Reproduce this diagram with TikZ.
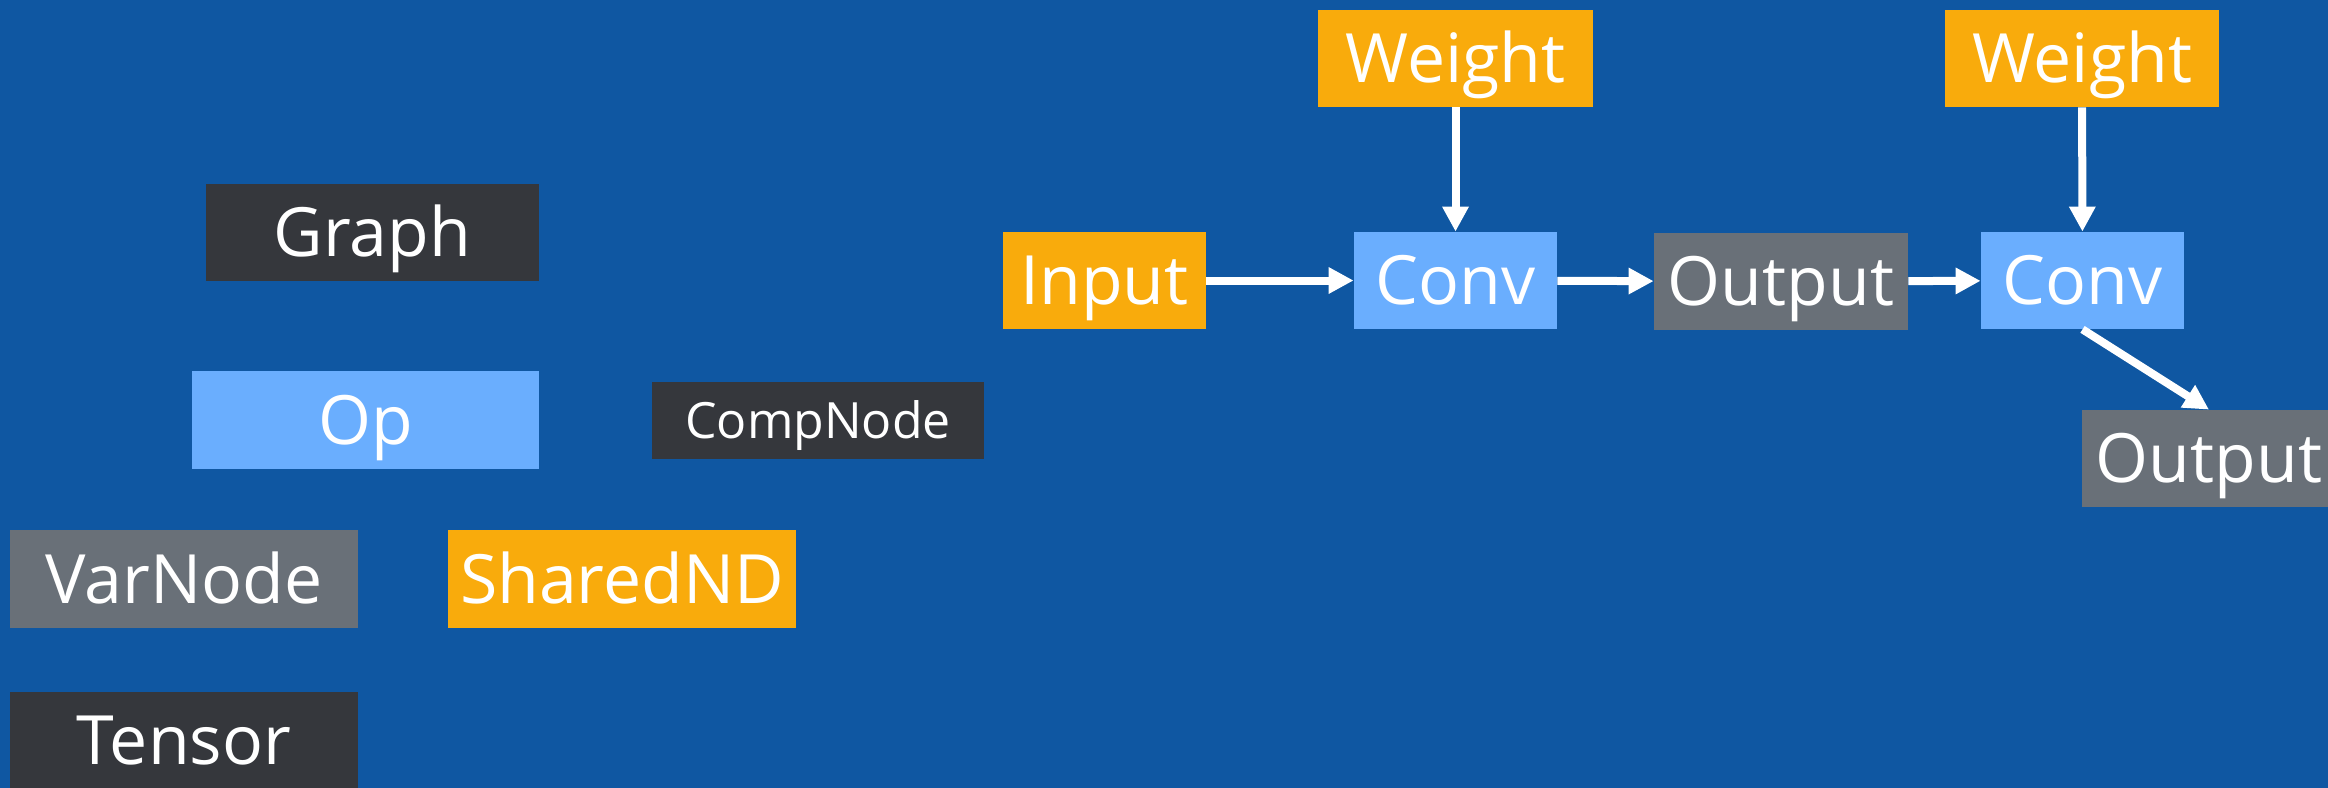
\documentclass[tikz,border=0pt]{standalone}
\usepackage{fontspec}
\setmainfont{Open Sans}
\usetikzlibrary{arrows.meta}
\definecolor{bgblue}{RGB}{15,87,162}
\definecolor{boxorange}{RGB}{249,171,12}
\definecolor{boxlight}{RGB}{106,174,254}
\definecolor{boxdark}{RGB}{53,55,60}
\definecolor{boxgray}{RGB}{105,112,120}
\tikzset{
  blk/.style={inner sep=0pt, text=white, font=\fontsize{34pt}{40pt}\selectfont,
    text height=24.3pt, text depth=0pt},
  small/.style={font=\fontsize{25pt}{30pt}\selectfont, text height=17.85pt},
  orangebox/.style={blk, fill=boxorange},
  lightbox/.style={blk, fill=boxlight},
  darkbox/.style={blk, fill=boxdark},
  graybox/.style={blk, fill=boxgray},
  flow/.style={white, line width=4pt, -{Triangle[length=12.5pt,width=12.5pt]}},
}
\begin{document}
\begin{tikzpicture}[x=0.5pt, y=-0.5pt]
  \useasboundingbox (0,0) rectangle (2328,787);
  \fill[bgblue] (-10,-10) rectangle (2338,797);

  % legend of block kinds
  \node[darkbox, minimum width=166.5pt, minimum height=48.5pt] (graph) at (372.5,232.5) {Graph};
  \node[lightbox, minimum width=173.5pt, minimum height=49pt] (op) at (365.5,420) {Op};
  \node[darkbox, small, minimum width=166pt, minimum height=38.5pt] (comp) at (818,420.5) {CompNode};
  \node[graybox, minimum width=174pt, minimum height=49pt] (varnode) at (184,579) {VarNode};
  \node[orangebox, minimum width=174pt, minimum height=49pt] (shared) at (622,579) {SharedND};
  \node[darkbox, minimum width=174pt, minimum height=48.5pt] (tensor) at (184,740.5) {Tensor};

  % two chained convolutions
  \node[orangebox, minimum width=137.5pt, minimum height=48.5pt] (w1) at (1455.5,58.5) {Weight};
  \node[orangebox, minimum width=137pt, minimum height=48.5pt] (w2) at (2082,58.5) {Weight};
  \node[orangebox, minimum width=101.5pt, minimum height=48.5pt] (in) at (1104.5,280.5) {Input};
  \node[lightbox, minimum width=101.5pt, minimum height=48.5pt] (c1) at (1455.5,280.5) {Conv};
  \node[graybox, minimum width=127pt, minimum height=48.5pt] (o1) at (1781,281.5) {Output};
  \node[lightbox, minimum width=101.5pt, minimum height=48.5pt] (c2) at (2082.5,280.5) {Conv};
  \node[graybox, minimum width=127pt, minimum height=48.5pt] (o2) at (2209,458.5) {Output};

  \draw[flow] (w1) -- (c1);
  \draw[flow] (w2) -- (c2);
  \draw[flow] (in) -- (c1);
  \draw[flow] (c1) -- (o1);
  \draw[flow] (o1) -- (c2);
  \draw[flow] (c2.south) -- (o2.north);
\end{tikzpicture}
\end{document}
